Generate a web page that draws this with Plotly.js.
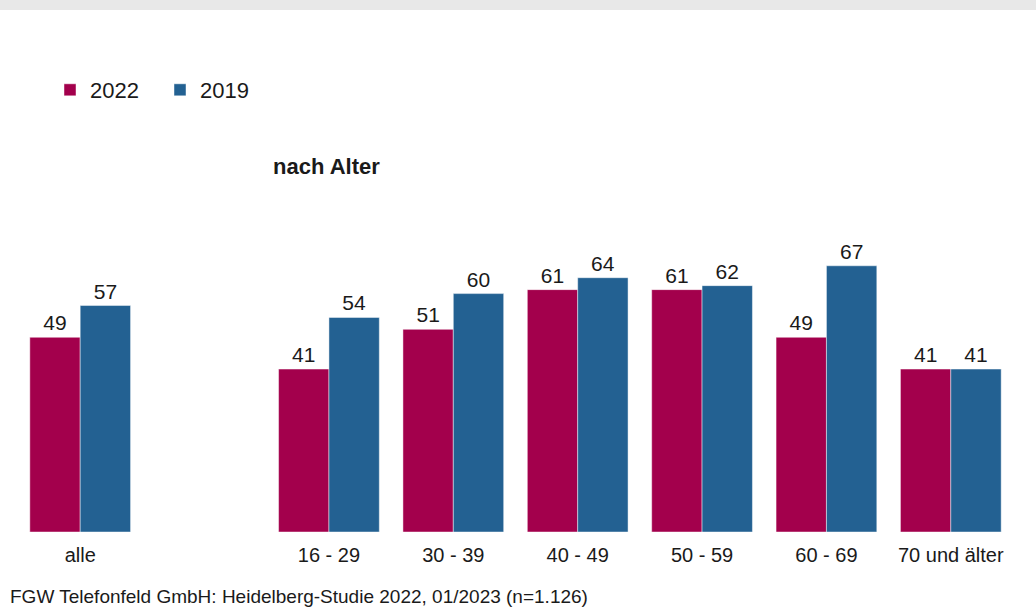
<!DOCTYPE html>
<html>
<head>
<meta charset="utf-8">
<script src="https://cdn.plot.ly/plotly-3.0.1.min.js"></script>
<style>html,body{margin:0;padding:0;background:#fff;}#chart{width:1036px;height:610px;}</style>
</head>
<body>
<div id="chart"></div>
<script>
var categories = ["alle", "", "16 - 29", "30 - 39", "40 - 49", "50 - 59", "60 - 69", "70 und älter"];
var positions = [0, 1, 2, 3, 4, 5, 6, 7];
var values2022 = [49, null, 41, 51, 61, 61, 49, 41];
var values2019 = [57, null, 54, 60, 64, 62, 67, 41];
var seriesNames = ["2022", "2019"];
var colors = ["#A3004C", "#236192"];

function labels(arr){ return arr.map(function(v){ return v === null ? "" : String(v); }); }

var traces = [
  {type: "bar", name: seriesNames[0], x: positions, y: values2022, text: labels(values2022),
   textposition: "outside", cliponaxis: false, textfont: {size: 21, color: "#1a1a1a"},
   marker: {color: colors[0], line: {color: "rgba(255,255,255,0.45)", width: 1}}, hoverinfo: "none"},
  {type: "bar", name: seriesNames[1], x: positions, y: values2019, text: labels(values2019),
   textposition: "outside", cliponaxis: false, textfont: {size: 21, color: "#1a1a1a"},
   marker: {color: colors[1], line: {color: "rgba(255,255,255,0.45)", width: 1}}, hoverinfo: "none"}
];

var layout = {
  width: 1036, height: 610,
  margin: {l: 18, r: 23, t: 234, b: 78},
  paper_bgcolor: "#fff", plot_bgcolor: "#fff",
  font: {family: "Liberation Sans, Arial, sans-serif", color: "#1a1a1a"},
  barmode: "group", bargap: 0.19, bargroupgap: 0,
  showlegend: true,
  legend: {orientation: "h", xref: "container", yref: "container", x: 50/1036, y: 1 - 90/610,
           xanchor: "left", yanchor: "middle", font: {size: 22}, itemwidth: 30, tracegroupgap: 0,
           entrywidth: 65, entrywidthmode: "pixels", bgcolor: "rgba(0,0,0,0)"},
  xaxis: {range: [-0.5, 7.5], tickmode: "array", tickvals: positions, ticktext: categories,
          showgrid: false, zeroline: false, showline: false, ticks: "outside", ticklen: 5,
          tickcolor: "rgba(0,0,0,0)", tickfont: {size: 20, color: "#1a1a1a"}, fixedrange: true},
  yaxis: {range: [0, 75], visible: false, showgrid: false, zeroline: false, fixedrange: true},
  shapes: [
    {type: "rect", xref: "paper", yref: "paper", x0: -1, x1: 2, y0: 1 + 224/298, y1: 1 + 240/298,
     fillcolor: "#e8e8e8", line: {width: 0}, layer: "below"}
  ],
  annotations: [
    {text: "<b>nach Alter</b>", xref: "paper", yref: "paper", x: (271-18)/995, y: (532-166)/298,
     xanchor: "left", yanchor: "middle", showarrow: false, font: {size: 22, color: "#1a1a1a"}},
    {text: "FGW Telefonfeld GmbH: Heidelberg-Studie 2022, 01/2023 (n=1.126)", xref: "paper", yref: "paper",
     x: (8-18)/995, y: (532-609)/298, xanchor: "left", yanchor: "bottom", showarrow: false,
     font: {size: 19, color: "#1a1a1a"}}
  ]
};

Plotly.newPlot("chart", traces, layout, {displayModeBar: false, staticPlot: true});
</script>
</body>
</html>
